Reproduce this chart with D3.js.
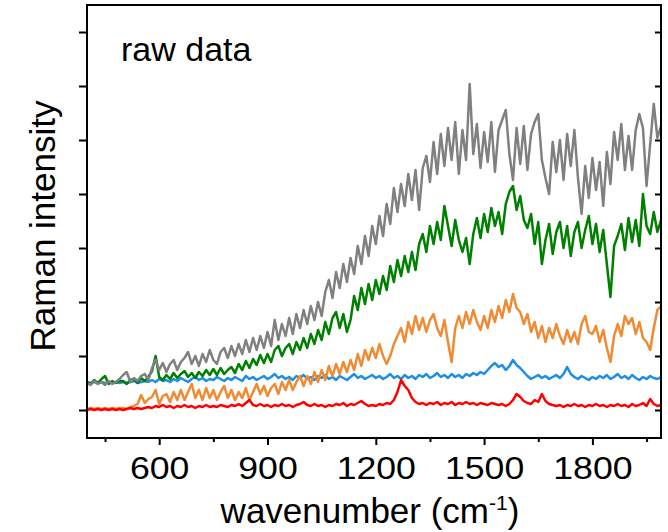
<!DOCTYPE html>
<html>
<head>
<meta charset="utf-8">
<script src="https://cdnjs.cloudflare.com/ajax/libs/d3/7.8.5/d3.min.js"></script>
<style>
  body { margin: 0; background: #fff; }
  text { font-family: "Liberation Sans", Arial, sans-serif; fill: #000; }
</style>
</head>
<body>
<script>
// wavenumber grid (cm-1), 10 cm-1 steps from 400 to 1990
var wavenumbers = d3.range(400, 2000, 10);

// intensities (arbitrary units, one tick = 54)
var gray = [27,25,29,26,28,25,29,26,28,31,
  35,38,28,32,29,34,36,30,42,50,
  40,47,38,46,50,40,48,52,58,46,
  54,44,56,48,60,50,46,58,62,52,
  64,54,66,56,70,58,72,60,74,62,
  78,64,90,70,86,74,92,76,96,82,
  100,86,104,90,108,94,118,130,112,138,
  122,146,128,152,136,164,146,174,154,184,
  166,194,174,206,186,222,198,226,204,236,
  210,240,200,242,254,228,268,236,276,244,
  282,250,288,236,280,250,326,256,286,242,
  278,248,288,238,280,290,300,256,230,282,
  246,284,240,276,288,296,250,232,216,268,
  238,270,230,276,244,280,232,196,244,212,
  252,220,248,204,258,226,278,250,286,240,
  274,240,280,296,282,224,266,306,272,284];

var green = [28,26,30,27,31,34,26,29,27,29,
  29,26,30,31,27,32,29,33,39,54,
  33,30,35,31,37,32,36,39,33,37,
  32,38,34,40,35,41,35,42,36,40,
  43,37,46,40,49,42,51,45,55,47,
  56,48,60,64,54,62,66,56,68,60,
  72,62,76,66,80,70,88,76,92,98,
  82,96,78,90,114,100,122,106,126,110,
  130,116,134,120,144,128,150,134,154,138,
  158,140,166,176,158,184,166,188,170,204,
  184,164,190,170,158,172,146,176,192,172,
  196,178,202,184,198,176,206,218,224,200,
  214,190,182,196,166,188,146,170,186,156,
  178,188,162,184,154,178,188,162,180,194,
  166,186,158,180,146,113,164,174,186,160,
  192,168,190,164,216,184,176,198,178,190];

var orange = [1,2,1,2,1,2,1,2,1,2,
  2,1,3,4,6,15,7,11,13,20,
  6,14,16,8,18,10,20,10,18,26,
  12,20,10,22,12,20,10,18,24,12,
  20,10,18,12,22,10,18,26,16,24,
  14,22,26,16,28,20,30,20,28,34,
  24,34,26,38,28,40,30,44,34,46,
  36,48,38,50,40,56,44,60,50,62,
  52,66,54,46,54,66,74,82,68,88,
  76,94,80,92,78,90,96,82,74,90,
  68,48,82,94,82,98,86,100,88,80,
  94,82,100,88,104,92,110,98,116,102,
  98,86,96,78,88,72,84,68,82,72,
  86,74,66,80,68,78,66,86,94,78,
  76,84,68,80,62,48,74,86,74,94,
  86,92,76,88,72,68,60,82,100,104];

var blue = [28,27,28,27,28,27,28,27,28,27,
  28,27,28,29,27,28,29,28,30,28,
  31,29,30,28,31,29,32,30,28,31,
  33,30,32,29,31,30,33,31,29,32,
  30,33,31,29,34,31,33,30,32,34,
  31,33,36,32,34,31,33,30,34,32,
  35,31,33,30,34,32,35,31,33,30,
  34,32,30,33,36,32,34,31,33,35,
  32,34,31,33,36,32,34,31,35,32,
  34,31,35,33,36,32,34,37,33,35,
  32,36,33,35,32,36,34,37,35,38,
  36,40,44,47,43,45,40,44,50,45,
  42,38,34,31,33,35,32,34,31,33,
  35,32,36,43,36,33,31,34,32,30,
  33,31,34,32,35,31,33,36,32,34,
  31,35,32,30,33,31,34,32,31,33];

var red = [0,1,0,1,0,1,0,1,0,1,
  0,1,2,1,2,1,2,3,2,4,
  3,5,3,4,2,4,3,5,3,4,
  2,4,3,5,3,4,3,5,4,3,
  5,4,6,4,7,10,5,4,6,4,
  5,3,5,4,6,4,5,3,5,6,
  8,5,4,6,4,5,3,5,4,6,
  5,7,4,6,5,7,9,6,4,5,
  4,6,5,7,6,10,18,30,24,20,
  12,8,6,7,5,7,6,8,5,7,
  6,8,5,7,6,8,6,7,5,7,
  6,5,7,6,5,6,4,6,10,16,
  13,9,7,6,10,8,16,9,6,5,
  4,5,3,5,4,6,4,5,3,5,
  4,6,4,5,3,5,4,6,4,5,
  3,6,4,5,7,4,11,6,4,5];

var xTicks = [600, 900, 1200, 1500, 1800];
var xMinorTicks = [450, 750, 1050, 1350, 1650, 1950];
var yTicks = [0, 54, 108, 162, 216, 270, 324, 378];

// drawing order: lower lines first
var series = [
  {values: blue, color: "#1b8ee8"},
  {values: green, color: "#008000"},
  {values: gray, color: "#808080"},
  {values: orange, color: "#f08b33"},
  {values: red, color: "#ff0000"}
];

function draw() {
  var width = 668, height = 532;
  // plot frame in pixels
  var frame = {left: 87, right: 661, top: 5, bottom: 438};

  var svg = d3.select("body").append("svg")
    .attr("width", width)
    .attr("height", height);

  var x = d3.scaleLinear().domain([400, 1990]).range([frame.left, frame.right]);
  var y = d3.scaleLinear().domain([-28, 405]).range([frame.bottom, frame.top]);

  // clip so lines stay in the frame
  svg.append("clipPath").attr("id", "plot")
    .append("rect")
    .attr("x", frame.left).attr("y", frame.top)
    .attr("width", frame.right - frame.left).attr("height", frame.bottom - frame.top);

  var line = d3.line()
    .x(function(d, i) { return x(wavenumbers[i]); })
    .y(function(d) { return y(d); });

  var lines = svg.append("g").attr("clip-path", "url(#plot)");
  series.forEach(function(s) {
    lines.append("path")
      .datum(s.values)
      .attr("d", line)
      .attr("fill", "none")
      .attr("stroke", s.color)
      .attr("stroke-width", 2.5)
      .attr("stroke-linejoin", "round");
  });

  // bottom axis, major ticks with labels
  var xAxis = svg.append("g")
    .attr("transform", "translate(0," + frame.bottom + ")")
    .call(d3.axisBottom(x).tickValues(xTicks).tickSize(7).tickFormat(d3.format("d")));
  xAxis.select(".domain").remove();
  xAxis.selectAll(".tick line").attr("stroke", "#000").attr("stroke-width", 2);
  xAxis.selectAll(".tick text")
    .attr("y", 41)
    .attr("dy", null)
    .attr("transform", "scale(1.15,1)")
    .attr("fill", "#000")
    .style("font-size", "31px")
    .style("font-family", "'Liberation Sans', Arial, sans-serif");

  // bottom minor ticks
  var xMinor = svg.append("g")
    .attr("transform", "translate(0," + frame.bottom + ")")
    .call(d3.axisBottom(x).tickValues(xMinorTicks).tickSize(4).tickFormat(""));
  xMinor.select(".domain").remove();
  xMinor.selectAll(".tick line").attr("stroke", "#000").attr("stroke-width", 2);

  // left ticks, outward, no labels
  var yAxis = svg.append("g")
    .attr("transform", "translate(" + frame.left + ",0)")
    .call(d3.axisLeft(y).tickValues(yTicks).tickSize(8).tickFormat(""));
  yAxis.select(".domain").remove();
  yAxis.selectAll(".tick line").attr("stroke", "#000").attr("stroke-width", 2);

  // right ticks, inward
  var yRight = svg.append("g")
    .attr("transform", "translate(" + frame.right + ",0)")
    .call(d3.axisRight(y).tickValues(yTicks).tickSize(-6).tickFormat(""));
  yRight.select(".domain").remove();
  yRight.selectAll(".tick line").attr("stroke", "#000").attr("stroke-width", 2);

  // frame
  svg.append("rect")
    .attr("x", frame.left).attr("y", frame.top)
    .attr("width", frame.right - frame.left).attr("height", frame.bottom - frame.top)
    .attr("fill", "none")
    .attr("stroke", "#000")
    .attr("stroke-width", 2);

  // axis titles
  var xTitle = svg.append("text")
    .attr("x", 370).attr("y", 523)
    .attr("text-anchor", "middle")
    .style("font-size", "35px");
  xTitle.append("tspan").text("wavenumber (cm");
  xTitle.append("tspan").attr("dy", -13).style("font-size", "21px").text("-1");
  xTitle.append("tspan").attr("dy", 13).text(")");

  svg.append("text")
    .attr("transform", "translate(55,226) rotate(-90)")
    .attr("text-anchor", "middle")
    .style("font-size", "35px")
    .text("Raman intensity");

  svg.append("text")
    .attr("x", 121).attr("y", 61)
    .style("font-size", "34px")
    .text("raw data");
}

draw();
</script>
</body>
</html>
